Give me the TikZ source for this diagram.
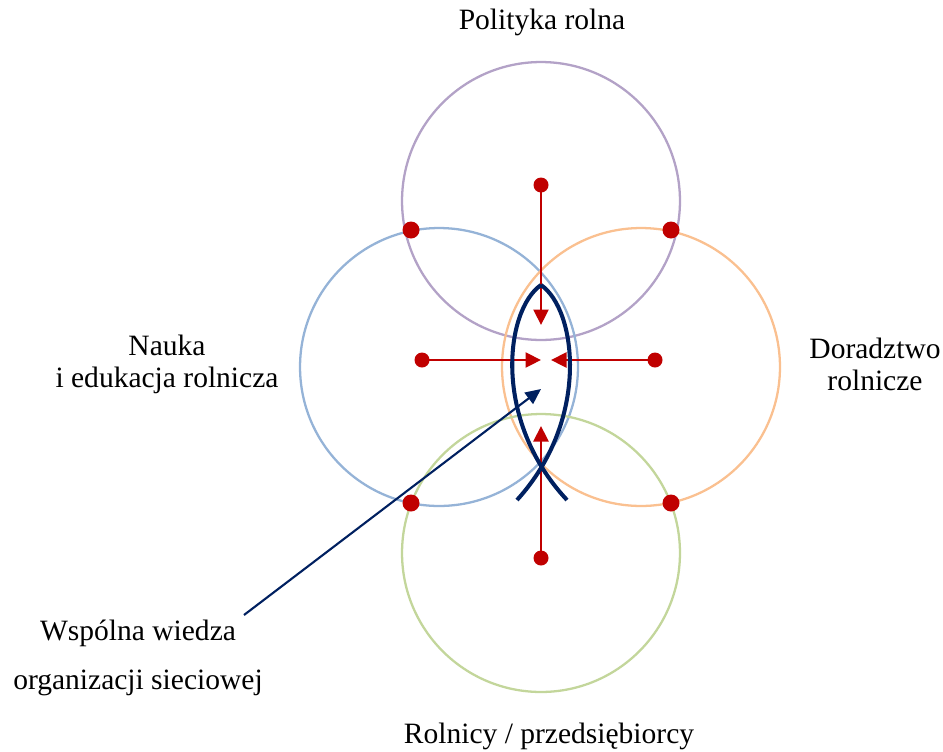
\documentclass[tikz,border=0pt]{standalone}
\usepackage{xcolor}
\usepackage{fontspec}
\setmainfont{Liberation Serif}
\usepackage{tikz}
\usetikzlibrary{calc, arrows.meta}

\definecolor{polcol}{HTML}{B3A2C7}
\definecolor{naucol}{HTML}{95B3D7}
\definecolor{dorcol}{HTML}{FAC090}
\definecolor{rolcol}{HTML}{C3D69B}
\definecolor{dotcol}{HTML}{C00000}
\definecolor{navcol}{HTML}{002060}

\tikzset{
	ring/.style={line width=1.3pt},
	bigdot/.style={circle, fill=dotcol, inner sep=0pt, minimum size=0.34cm},
	enddot/.style={circle, fill=dotcol, inner sep=0pt, minimum size=0.30cm},
	push/.style={dotcol, line width=1.3pt, -{Triangle[length=0.31cm, width=0.30cm]}},
	fish/.style={navcol, line width=2.3pt},
	label/.style={font=\fontsize{16.8}{18.3}\selectfont, align=center, inner sep=0pt}
}

\begin{document}
\begin{tikzpicture}[x=0.02cm, y=-0.02cm]
	\useasboundingbox (0,0) rectangle (943,751);
	
	% circles
	\draw [ring, polcol] (541,201) circle [radius=2.78cm];
	\draw [ring, naucol] (439,367) circle [radius=2.78cm];
	\draw [ring, dorcol] (641,367) circle [radius=2.78cm];
	\draw [ring, rolcol] (541,553) circle [radius=2.78cm];
	
	% labels
	\node (pol) at (542,22) [label] {Polityka rolna};
	\node (nau) at (167,364) [label] {Nauka\\i edukacja rolnicza};
	\node (dor) at (875,364) [label] {Doradztwo\\rolnicze};
	\node (rol) at (549,736) [label] {Rolnicy / przedsiębiorcy};
	\node (wie) at (138,658) [label] {Wspólna wiedza\\[10pt]organizacji sieciowej};
	
	% corner dots
	\foreach \x/\y [count=\i] in {411/230, 671/230, 411/503, 671/503} {
		\node (c\i) at (\x,\y) [bigdot] {};
	}
	
	% arrows to the middle
	\node (dT) at (541,185) [enddot] {};
	\node (dL) at (422,360) [enddot] {};
	\node (dR) at (655,360) [enddot] {};
	\node (dB) at (541,558) [enddot] {};
	\coordinate (tT) at (541,325);
	\coordinate (tL) at (541,360);
	\coordinate (tR) at (551,360);
	\coordinate (tB) at (541,426);
	\draw [push] (dT.center) -- (tT);
	\draw [push] (dL.center) -- (tL);
	\draw [push] (dR.center) -- (tR);
	\draw [push] (dB.center) -- (tB);
	
	% fish
	\coordinate (head) at (541,285);
	\draw [fish] (head) .. controls (505,310) and (492,420) .. (567,500);
	\draw [fish] (head) .. controls (577,310) and (590,420) .. (517,500);
	
	% pointer
	\coordinate (from) at (244,615);
	\coordinate (core) at (541,389);
	\draw [navcol, line width=1.2pt, -{Triangle[length=0.31cm, width=0.28cm]}] (from) -- (core);
\end{tikzpicture}
\end{document}
